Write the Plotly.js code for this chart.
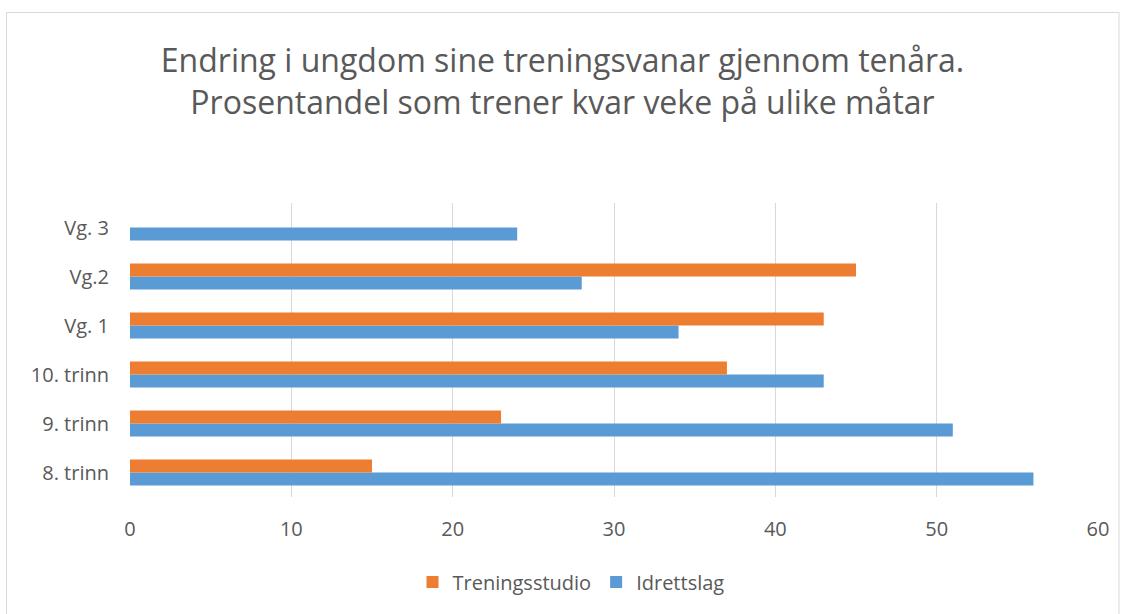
<!DOCTYPE html>
<html>
<head>
<meta charset="utf-8">
<script src="https://cdn.plot.ly/plotly-3.0.1.min.js"></script>
<style>html,body{margin:0;padding:0;background:#fff;}#chart{width:1125px;height:614px;}</style>
</head>
<body>
<div id="chart"></div>
<script>
const categories = ["8. trinn", "9. trinn", "10. trinn", "Vg. 1", "Vg.2", "Vg. 3"];
const idrettslag = [56, 51, 43, 34, 28, 24];
const treningsstudio = [15, 23, 37, 43, 45, null];
const xTicks = [0, 10, 20, 30, 40, 50, 60];

const textColor = "#595959";
const fontFam = "Open Sans, Liberation Sans, sans-serif";

const traces = [
  {type: "bar", orientation: "h", name: "Idrettslag", y: categories, x: idrettslag,
   marker: {color: "#5b9bd5"}},
  {type: "bar", orientation: "h", name: "Treningsstudio", y: categories, x: treningsstudio,
   marker: {color: "#ed7d31"}}
];

const layout = {
  width: 1125, height: 614,
  margin: {l: 130, r: 27, t: 203, b: 117},
  paper_bgcolor: "#fff", plot_bgcolor: "#fff",
  barmode: "group", bargap: 0.47, bargroupgap: 0,
  title: {text: "Endring i ungdom sine treningsvanar gjennom tenåra.<br>Prosentandel som trener kvar veke på ulike måtar",
          font: {family: fontFam, size: 32, color: textColor},
          x: 0.5, xanchor: "center", xref: "container", y: 1 - 72/614, yanchor: "middle", yref: "container"},
  xaxis: {range: [0, 60], tickvals: xTicks, ticktext: xTicks.map(String),
          showgrid: true, gridcolor: "#d9d9d9", gridwidth: 1, zeroline: false,
          showline: false, ticks: "", tickfont: {family: fontFam, size: 20, color: textColor}, ticklabelstandoff: 18},
  yaxis: {type: "category", categoryorder: "array", categoryarray: categories,
          showgrid: false, zeroline: false, showline: false, ticks: "",
          tickfont: {family: fontFam, size: 20, color: textColor}, ticklabelstandoff: 20},
  legend: {orientation: "h", x: (571-130)/968, xanchor: "center", y: (497-582)/294, yanchor: "middle",
           traceorder: "reversed", font: {family: fontFam, size: 20, color: textColor}, itemwidth: 30},
  showlegend: true,
  shapes: [{type: "rect", xref: "paper", yref: "paper",
            x0: (6.5-130)/968, x1: (1119-130)/968, y0: -0.6, y1: (497-12.5)/294,
            line: {color: "#d9d9d9", width: 1}, fillcolor: "rgba(0,0,0,0)", layer: "below"}]
};

Plotly.newPlot("chart", traces, layout, {displayModeBar: false, staticPlot: true});
</script>
</body>
</html>
